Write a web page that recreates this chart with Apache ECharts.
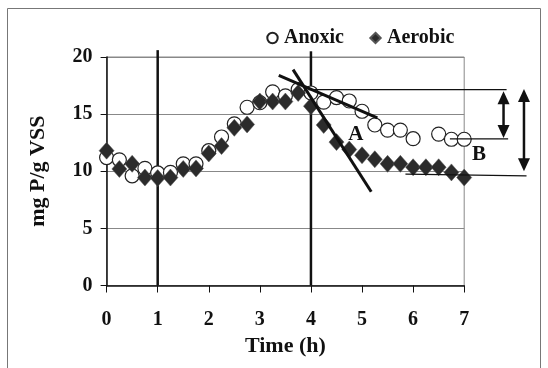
<!DOCTYPE html>
<html><head><meta charset="utf-8">
<script src="https://cdn.jsdelivr.net/npm/echarts@6/dist/echarts.min.js"></script>
<style>html,body{margin:0;padding:0;background:#fff}#c{width:548px;height:368px}</style>
</head><body><div id="c"></div>
<script>
const times = [0,0.25,0.5,0.75,1,1.25,1.5,1.75,2,2.25,2.5,2.75,3,3.25,3.5,3.75,4,4.25,4.5,4.75,5,5.25,5.5,5.75,6,6.25,6.5,6.75,7];
const anoxic = [11.2,11.0,9.6,10.25,9.85,9.9,10.65,10.65,11.8,13.0,14.15,15.6,16.0,16.95,16.6,17.15,16.85,16.05,16.45,16.15,15.25,14.05,13.6,13.6,12.85,null,13.25,12.8,12.8];
const aerobic = [11.8,10.2,10.65,9.45,9.4,9.45,10.2,10.25,11.55,12.2,13.8,14.1,16.1,16.1,16.1,16.85,15.7,14.05,12.55,11.9,11.4,11.05,10.65,10.65,10.35,10.35,10.35,9.9,9.45];
const xTicks = [0,1,2,3,4,5,6,7];
const yTicks = [0,5,10,15,20];
const vLines = [[1,0,1,20.6],[4,0,4,20.5]];
const trendLines = [[3.65,18.9,5.18,8.2],[3.37,18.4,5.30,14.67]];
const levelLines = [[3.95,17.15,7.83,17.15],[6.72,12.83,7.86,12.83],[5.85,9.75,8.22,9.6]];
const arrows = [[7.77,17.0,7.77,12.9],[8.17,17.2,8.17,10.0]];
const textLabels = [['A',4.88,13.2],['B',7.29,11.45]];

const FONT = 'Liberation Serif';
const INK = '#111';
const chart = echarts.init(document.getElementById('c'), null, {renderer:'canvas'});

function segSeries(segs, width, z){
  return {type:'custom', data:segs, clip:false, silent:true, z:z, encode:{x:[0,2], y:[1,3]},
    renderItem:(params, api)=>{
      const a = api.coord([api.value(0), api.value(1)]);
      const b = api.coord([api.value(2), api.value(3)]);
      return {type:'line', shape:{x1:a[0],y1:a[1],x2:b[0],y2:b[1]}, style:{stroke:INK, lineWidth:width}};
    }};
}
function arrowSeries(segs, width, headW, headL, z){
  return {type:'custom', data:segs, clip:false, silent:true, z:z, encode:{x:[0,2], y:[1,3]},
    renderItem:(params, api)=>{
      const a = api.coord([api.value(0), api.value(1)]);
      const b = api.coord([api.value(2), api.value(3)]);
      const dx=b[0]-a[0], dy=b[1]-a[1], L=Math.hypot(dx,dy), ux=dx/L, uy=dy/L, nx=-uy, ny=ux;
      const head=(tip,dir)=>{ // dir: unit vector pointing toward tip
        const bx=tip[0]-dir[0]*headL, by=tip[1]-dir[1]*headL;
        return {type:'polygon', shape:{points:[[tip[0],tip[1]],[bx+nx*headW/2,by+ny*headW/2],[bx-nx*headW/2,by-ny*headW/2]]}, style:{fill:INK}};
      };
      return {type:'group', children:[
        {type:'line', shape:{x1:a[0]+ux*headL*0.8,y1:a[1]+uy*headL*0.8,x2:b[0]-ux*headL*0.8,y2:b[1]-uy*headL*0.8}, style:{stroke:INK, lineWidth:width}},
        head(a,[-ux,-uy]), head(b,[ux,uy])
      ]};
    }};
}

const series = [];
series.push(segSeries(vLines, 2.5, 1));
series.push({name:'Anoxic', type:'line', data:times.map((t,i)=>[t,anoxic[i]]), showSymbol:true,
  lineStyle:{width:0,opacity:0}, symbol:'circle', symbolSize:14, z:3,
  itemStyle:{color:'#fff', borderColor:'#222', borderWidth:1.2}});
series.push({name:'Aerobic', type:'line', data:times.map((t,i)=>[t,aerobic[i]]), showSymbol:true,
  lineStyle:{width:0,opacity:0}, symbol:'diamond', symbolSize:[15,17], z:4,
  itemStyle:{color:'#2b2b2b', borderColor:'#555', borderWidth:0.5}});
series.push(segSeries(trendLines, 3, 5));
series.push(segSeries(levelLines, 1.2, 5));
series.push(arrowSeries(arrows, 2.5, 12, 13, 5));
series.push({type:'custom', data:textLabels.map(l=>[l[1],l[2],l[0]]), clip:false, silent:true, z:6,
  encode:{x:0,y:1},
  renderItem:(params, api)=>{
    const p = api.coord([api.value(0), api.value(1)]);
    return {type:'text', x:p[0], y:p[1], style:{text:textLabels[params.dataIndex][0], fill:INK,
      font:'bold 21px "Liberation Serif"', align:'center', verticalAlign:'middle'}};
  }});

chart.setOption({
  animation:false,
  backgroundColor:'#fff',
  graphic:[{type:'rect', shape:{x:7.5,y:8.5,width:533,height:380}, style:{fill:'none', stroke:'#777', lineWidth:1}, z:-1}],
  legend:{data:['Anoxic','Aerobic'], left:261, top:23, itemWidth:13, itemHeight:13, itemGap:25,
    textStyle:{fontFamily:FONT, fontWeight:'bold', fontSize:20, color:INK}},
  grid:{left:106.6, right:83.8, top:57, bottom:82.5, show:true, borderColor:'#888', borderWidth:1},
  xAxis:{type:'value', min:0, max:7, interval:1, name:'Time (h)', nameLocation:'middle', nameGap:50,
    nameTextStyle:{fontFamily:FONT, fontWeight:'bold', fontSize:22, color:INK},
    axisLine:{lineStyle:{color:INK, width:1.5}}, axisTick:{show:true, length:7, lineStyle:{color:INK}},
    splitLine:{show:false},
    axisLabel:{margin:24, fontFamily:FONT, fontWeight:'bold', fontSize:20, color:INK,
      formatter:v=>xTicks.includes(v)?String(v):''}},
  yAxis:{type:'value', min:0, max:20, interval:5, name:'mg P/g VSS', nameLocation:'middle', nameRotate:90, nameGap:57,
    nameTextStyle:{fontFamily:FONT, fontWeight:'bold', fontSize:22, color:INK},
    axisLine:{show:true, lineStyle:{color:INK, width:1.5}}, axisTick:{show:true, length:6, lineStyle:{color:INK}},
    splitLine:{show:true, lineStyle:{color:'#888', width:1}},
    axisLabel:{margin:14, fontFamily:FONT, fontWeight:'bold', fontSize:20, color:INK,
      formatter:v=>yTicks.includes(v)?String(v):''}},
  series:series
});
</script></body></html>
